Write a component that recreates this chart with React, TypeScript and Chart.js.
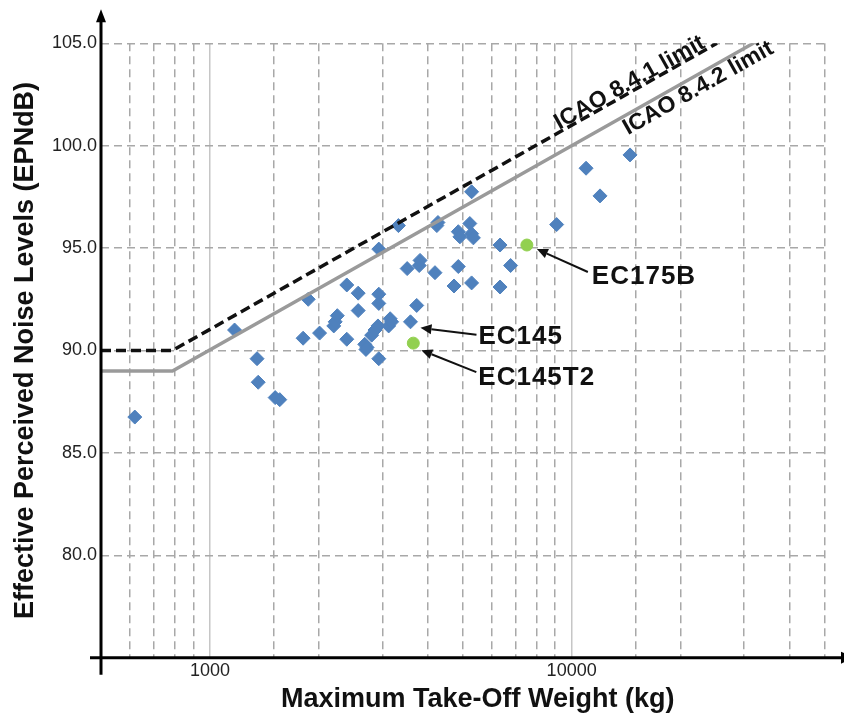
import React, { useEffect, useRef } from "react";
import { Chart, registerables } from "chart.js";

Chart.register(...registerables);

// Helicopter certification points (blue diamonds)
const heliMtow = [
  620, 1170, 1350, 1360, 1515, 1560, 1810, 1870, 2010, 2200, 2220, 2250, 2390, 2390,
  2570, 2570, 2680, 2720, 2700, 2800, 2860, 2915, 2930, 2930, 2930, 2930, 3120, 3150,
  3180, 3320, 3510, 3585, 3730, 3790, 3810, 4190, 4240, 4270, 4730, 4860, 4860, 4910,
  5230, 5290, 5350, 5290, 5290, 6340, 6780, 6340, 9090, 10960, 11980, 14500,
];
const heliEpnl = [
  86.75, 91.0, 89.6, 88.45, 87.7, 87.6, 90.6, 92.5, 90.85, 91.2, 91.4, 91.7, 93.2, 90.55,
  92.8, 91.95, 90.3, 90.15, 90.05, 90.75, 91.0, 91.2, 92.75, 92.3, 94.95, 89.6, 91.2, 91.55,
  91.4, 96.1, 94.0, 91.4, 92.2, 94.15, 94.4, 93.8, 96.1, 96.25, 93.15, 94.1, 95.8, 95.55,
  96.2, 95.7, 95.5, 97.75, 93.3, 95.15, 94.15, 93.1, 96.15, 98.9, 97.55, 99.55,
];

// Highlighted new types (green dots)
const newMtow = [3650, 7520];
const newEpnl = [90.36, 95.15];

// ICAO limits
const limit841Mtow = [500, 788, 25216];
const limit841Epnl = [90, 90, 105];
const limit842Mtow = [500, 788, 31770];
const limit842Epnl = [89, 89, 105];

// Callouts
const calloutNames = ["EC175B", "EC145", "EC145T2"];
const calloutMtow = [7520, 3585, 3650];
const calloutEpnl = [95.15, 91.4, 90.36];

// Axis labels
const xLabelTicks = [1000, 10000];
const xSolidGrid = [1000, 10000];
const xTitle = "Maximum Take-Off Weight (kg)";
const yTitle = "Effective Perceived Noise Levels (EPNdB)";
const yMin = 75;
const yMax = 105;
const yStep = 5;

const FAMILY = '"Liberation Sans", Arial, sans-serif';

// pixel offsets from the callout point: [tipDx, tipDy, tailDx, tailDy, textDx, textDy]
const calloutOffsets = [
  [10, 4, 61, 27, 65, 39],
  [10, 6, 66, 13, 68, 22],
  [8, 7, 63, 29, 65, 42],
];

function drawArrow(ctx: CanvasRenderingContext2D, x1: number, y1: number, x2: number, y2: number) {
  const ang = Math.atan2(y2 - y1, x2 - x1);
  const head = 11;
  const hw = 5;
  const bx = x2 - head * Math.cos(ang);
  const by = y2 - head * Math.sin(ang);
  ctx.beginPath();
  ctx.moveTo(x1, y1);
  ctx.lineTo(bx, by);
  ctx.stroke();
  ctx.beginPath();
  ctx.moveTo(x2, y2);
  ctx.lineTo(bx + hw * Math.sin(ang), by - hw * Math.cos(ang));
  ctx.lineTo(bx - hw * Math.sin(ang), by + hw * Math.cos(ang));
  ctx.closePath();
  ctx.fill();
}

const decorPlugin = {
  id: "decor",
  afterDatasetsDraw(chart: any) {
    const ctx: CanvasRenderingContext2D = chart.ctx;
    const xs = chart.scales.x;
    const ys = chart.scales.y;

    // ICAO limit labels along the lines
    const lineLabel = (
      mt: number[], ep: number[], at: number, text: string, perp: number
    ) => {
      const m1 = mt[1], m2 = mt[2], e1 = ep[1], e2 = ep[2];
      const p1x = xs.getPixelForValue(m1), p1y = ys.getPixelForValue(e1);
      const p2x = xs.getPixelForValue(m2), p2y = ys.getPixelForValue(e2);
      const ang = Math.atan2(p2y - p1y, p2x - p1x);
      const t = (Math.log10(at) - Math.log10(m1)) / (Math.log10(m2) - Math.log10(m1));
      const v = e1 + (e2 - e1) * t;
      const px = xs.getPixelForValue(at);
      const py = ys.getPixelForValue(v);
      ctx.save();
      ctx.translate(px, py);
      ctx.rotate(ang);
      ctx.font = `bold 23px ${FAMILY}`;
      ctx.fillStyle = "#111";
      ctx.textAlign = "left";
      ctx.textBaseline = "alphabetic";
      ctx.fillText(text, 0, perp);
      ctx.restore();
    };
    lineLabel(limit841Mtow, limit841Epnl, 9300, "ICAO 8.4.1 limit", -2);
    lineLabel(limit842Mtow, limit842Epnl, 13500, "ICAO 8.4.2 limit", 18.5);

    // Callouts
    ctx.save();
    ctx.strokeStyle = "#111";
    ctx.fillStyle = "#111";
    ctx.lineWidth = 2;
    for (let i = 0; i < calloutNames.length; i++) {
      const px = xs.getPixelForValue(calloutMtow[i]);
      const py = ys.getPixelForValue(calloutEpnl[i]);
      const o = calloutOffsets[i];
      drawArrow(ctx, px + o[2], py + o[3], px + o[0], py + o[1]);
      ctx.font = `bold 26px ${FAMILY}`;
      (ctx as any).letterSpacing = "1px";
      ctx.textAlign = "left";
      ctx.textBaseline = "alphabetic";
      ctx.fillText(calloutNames[i], px + o[4], py + o[5]);
      (ctx as any).letterSpacing = "0px";
    }
    ctx.restore();
  },
  afterDraw(chart: any) {
    const ctx: CanvasRenderingContext2D = chart.ctx;
    const { left, right, top, bottom } = chart.chartArea;
    ctx.save();
    // x-axis title (drawn slightly right of the plot centre, as in the source)
    ctx.font = `bold 27px ${FAMILY}`;
    ctx.fillStyle = "#111";
    ctx.textAlign = "center";
    ctx.textBaseline = "alphabetic";
    ctx.fillText(xTitle, (left + right) / 2 + 15, bottom + 49);

    ctx.strokeStyle = "#000";
    ctx.fillStyle = "#000";
    ctx.lineWidth = 3;
    // y axis
    ctx.beginPath();
    ctx.moveTo(left, bottom + 17);
    ctx.lineTo(left, top - 22);
    ctx.stroke();
    ctx.beginPath();
    ctx.moveTo(left, top - 34);
    ctx.lineTo(left - 5, top - 21);
    ctx.lineTo(left + 5, top - 21);
    ctx.closePath();
    ctx.fill();
    // x axis
    ctx.beginPath();
    ctx.moveTo(left - 11, bottom);
    ctx.lineTo(chart.width - 2, bottom);
    ctx.stroke();
    ctx.beginPath();
    ctx.moveTo(chart.width + 10, bottom);
    ctx.lineTo(chart.width - 3, bottom - 6);
    ctx.lineTo(chart.width - 3, bottom + 6);
    ctx.closePath();
    ctx.fill();
    ctx.restore();
  },
};

export default function App() {
  const ref = useRef<HTMLCanvasElement>(null);
  useEffect(() => {
    if (!ref.current) return;
    const isSolid = (v: number) => xSolidGrid.some((s) => Math.abs(v - s) < 1e-6);
    const chart = new Chart(ref.current, {
      type: "scatter",
      data: {
        datasets: [
          {
            type: "line",
            label: "ICAO 8.4.1 limit",
            data: limit841Mtow.map((m, i) => ({ x: m, y: limit841Epnl[i] })),
            borderColor: "#111",
            borderWidth: 3.5,
            borderDash: [10, 5],
            pointRadius: 0,
            fill: false,
            tension: 0,
          } as any,
          {
            type: "line",
            label: "ICAO 8.4.2 limit",
            data: limit842Mtow.map((m, i) => ({ x: m, y: limit842Epnl[i] })),
            borderColor: "#9a9a9a",
            borderWidth: 3.5,
            pointRadius: 0,
            fill: false,
            tension: 0,
          } as any,
          {
            label: "Helicopters",
            data: heliMtow.map((m, i) => ({ x: m, y: heliEpnl[i] })),
            pointStyle: "rectRot",
            pointRadius: 7,
            backgroundColor: "#4F81BD",
            borderColor: "#4F81BD",
            borderWidth: 1,
          },
          {
            label: "New types",
            data: newMtow.map((m, i) => ({ x: m, y: newEpnl[i] })),
            pointStyle: "circle",
            pointRadius: 6,
            backgroundColor: "#92D050",
            borderColor: "#92D050",
            borderWidth: 1,
          },
        ],
      },
      options: {
        responsive: false,
        animation: false,
        devicePixelRatio: 1,
        layout: { padding: { top: 43.3, right: 19.5, left: 0, bottom: 0 } },
        plugins: { legend: { display: false }, tooltip: { enabled: false } },
        scales: {
          x: {
            type: "logarithmic",
            min: 500,
            max: 50000,
            afterFit: (s: any) => {
              s.height = 58.3;
            },
            grid: {
              color: (c: any) => (isSolid(c.tick?.value) ? "#c6c6c6" : "#a8a8a8"),
              lineWidth: 1.5,
              drawTicks: false,
            },
            border: {
              display: false,
              dash: (c: any) => (isSolid(c.tick?.value) ? [] : [8, 5]),
            },
            ticks: {
              autoSkip: false,
              maxRotation: 0,
              padding: 3,
              color: "#222",
              font: { family: FAMILY, size: 18 },
              callback: (v: any) =>
                xLabelTicks.some((t) => Math.abs(Number(v) - t) < 1e-6) ? String(v) : "",
            },
            title: { display: false, text: xTitle },
          },
          y: {
            min: yMin,
            max: yMax,
            afterFit: (s: any) => {
              s.width = 101;
            },
            grid: { color: "#a8a8a8", lineWidth: 1.5, drawTicks: false },
            border: { display: false, dash: [8, 5] },
            ticks: {
              stepSize: yStep,
              padding: 4,
              color: "#222",
              font: { family: FAMILY, size: 18 },
              callback: (v: any) => (Number(v) === yMin ? "" : Number(v).toFixed(1)),
            },
            title: {
              display: true,
              text: yTitle,
              color: "#111",
              font: { family: FAMILY, size: 27, weight: "bold" },
              padding: { top: 9.4, bottom: 0 },
            },
          },
        },
      },
      plugins: [decorPlugin],
    });
    return () => chart.destroy();
  }, []);
  return (
    <div style={{ position: "absolute", left: 0, top: 0, width: 844, height: 716, background: "#fff" }}>
      <canvas ref={ref} width={844} height={716} />
    </div>
  );
}
